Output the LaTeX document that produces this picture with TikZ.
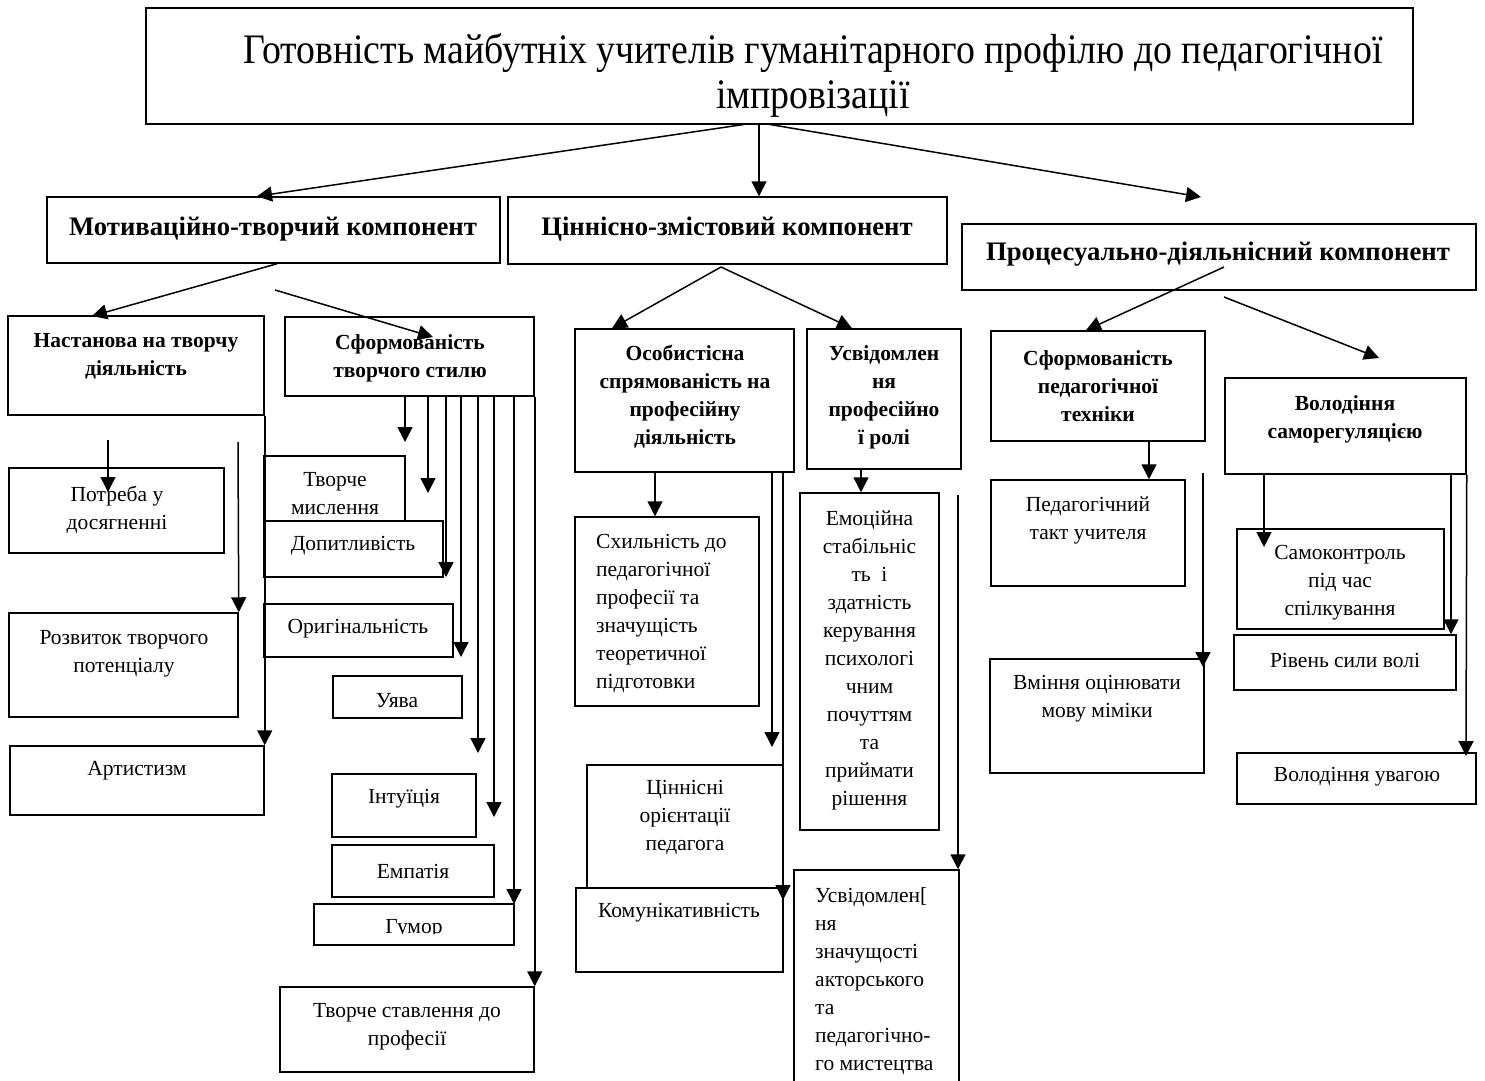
\documentclass[tikz,border=0pt]{standalone}
\usepackage{fontspec}
\setmainfont{Liberation Serif}
\newfontfamily\titlefont[FakeStretch=0.9]{Liberation Serif}
\usetikzlibrary{arrows.meta, fit}

\tikzset{
  box/.style={draw, line width=1.5pt, fill=white, inner sep=0pt},
  txt/.style={font=\fontsize{21.5}{28}\selectfont, align=center, inner sep=0pt},
  ltxt/.style={txt, align=left, anchor=west},
  btxt/.style={font=\bfseries\fontsize{21.5}{28}\selectfont, align=center, inner sep=0pt},
  ctxt/.style={font=\bfseries\fontsize{26.7}{30}\selectfont, inner sep=0pt},
  arr/.style={line width=1.5pt, -{Triangle[length=15pt, width=15pt]}},
}

\begin{document}
\begin{tikzpicture}[x=1pt, y=-1pt]
\useasboundingbox (0,0) rectangle (1485,1080);

% goal
\node[box, fit={(146,8) (1413,124)}] (goal) {};
\node[font=\titlefont\fontsize{42}{45}\selectfont, align=center, inner sep=0pt] (goal-t) at (813,75)
  {Готовність майбутніх учителів гуманітарного профілю до педагогічної\\імпровізації};

% components
\node[box, fit={(47,197) (500,263)}] (mot) {};
\node[box, fit={(508,197) (947,264)}] (cin) {};
\node[box, fit={(962,224) (1476,290)}] (pro) {};
\node[ctxt] (mot-t) at (273,229) {Мотиваційно-творчий компонент};
\node[ctxt] (cin-t) at (727,229) {Ціннісно-змістовий компонент};
\node[ctxt] (pro-t) at (1218,254) {Процесуально-діяльнісний компонент};

% second level
\node[box, fit={(8,316) (264,415)}] (nast) {};
\node[box, fit={(285,317) (534,396)}] (sfts) {};
\node[box, fit={(575,329) (794,472)}] (osob) {};
\node[box, fit={(807,329) (961,469)}] (usv) {};
\node[box, fit={(991,331) (1205,441)}] (sfpt) {};
\node[box, fit={(1225,378) (1466,474)}] (vol) {};
\node[btxt] (nast-t) at (136,356) {Настанова на творчу\\діяльність};
\node[btxt] (sfts-t) at (410,358.5) {Сформованість\\творчого стилю};
\node[btxt] (osob-t) at (685,397) {Особистісна\\спрямованість на\\професійну\\діяльність};
\node[btxt] (usv-t) at (884,397) {Усвідомлен\\ня\\професійно\\ї ролі};
\node[btxt] (sfpt-t) at (1098,386) {Сформованість\\педагогічної\\техніки};
\node[btxt] (vol-t) at (1345,419) {Володіння\\саморегуляцією};

% motivational branch
\node[box, fit={(9,468) (224,553)}] (potr) {};
\node[box, fit={(9,613) (238,717)}] (rozv) {};
\node[box, fit={(10,746) (264,815)}] (art) {};
\node[txt] (potr-t) at (117,510) {Потреба у\\досягненні};
\node[txt] (rozv-t) at (124,653.5) {Розвиток творчого\\потенціалу};
\node[txt] (art-t) at (137,771) {Артистизм};

\node[box, fit={(264,456) (405,521)}] (tvm) {};
\node[txt] (tvm-t) at (335,494) {Творче\\мислення};
\node[box, fit={(264,521) (443,577)}] (dop) {};
\node[txt] (dop-t) at (353,546) {Допитливість};
\node[box, fit={(264,604) (453,657)}] (orig) {};
\node[txt] (orig-t) at (358,629) {Оригінальність};
\node[box, fit={(333,676) (462,718)}] (uyava) {};
\node[txt] (uyava-t) at (397,701) {Уява};
\node[box, fit={(332,774) (476,837)}] (intu) {};
\node[txt] (intu-t) at (404,799) {Інтуїція};
\node[box, fit={(332,845) (494,897)}] (emp) {};
\node[txt] (emp-t) at (413,871) {Емпатія};
\node[box, fit={(314,904) (514,945)}] (gum) {};
\begin{scope}
\clip (314,904) rectangle (514,933);
\node[txt] (gum-t) at (414,929) {Гумор};
\end{scope}
\node[box, fit={(280,987) (534,1072)}] (tvst) {};
\node[txt] (tvst-t) at (407,1026.5) {Творче ставлення до\\професії};

% value branch
\node[box, fit={(575,517) (759,706)}] (shyl) {};
\node[ltxt] (shyl-t) at (596,613) {Схильність до\\педагогічної\\професії та\\значущість\\теоретичної\\підготовки};
\node[box, fit={(587,765) (783,888)}] (cinn) {};
\node[txt] (cinn-t) at (685,817.5) {Ціннісні\\орієнтації\\педагога};
\node[box, fit={(576,888) (783,972)}] (kom) {};
\node[txt] (kom-t) at (679,913) {Комунікативність};
\node[box, fit={(800,493) (939,830)}] (emo) {};
\node[txt] (emo-t) at (869.5,660.5) {Емоційна\\стабільніс\\ть\ \ і\\здатність\\керування\\психологі\\чним\\почуттям\\та\\приймати\\рішення};
\node[box, fit={(794,870) (959,1095)}] (usvz) {};
\node[ltxt] (usvz-t) at (815,981) {Усвідомлен[\\ня\\значущості\\акторського\\та\\педагогічно-\\го мистецтва};

% process branch
\node[box, fit={(991,480) (1185,586)}] (ped) {};
\node[txt] (ped-t) at (1088,520) {Педагогічний\\такт учителя};
\node[box, fit={(990,659) (1204,773)}] (vmin) {};
\node[txt] (vmin-t) at (1097,699) {Вміння оцінювати\\мову міміки};
\node[box, fit={(1237,529) (1444,629)}] (samo) {};
\node[txt] (samo-t) at (1340,582.5) {Самоконтроль\\під час\\спілкування};
\node[box, fit={(1234,635) (1456,690)}] (riv) {};
\node[txt] (riv-t) at (1345,660) {Рівень сили волі};
\node[box, fit={(1237,753) (1476,804)}] (uvag) {};
\node[txt] (uvag-t) at (1357,777) {Володіння увагою};

% free ends of connectors
\coordinate (g1) at (747,124);
\coordinate (g3) at (767,124);
\coordinate (p-in) at (1201,197);
\coordinate (m2) at (275,290);
\coordinate (s-in) at (433,337);
\coordinate (c0) at (721,267);
\coordinate (p1) at (1224,267);
\coordinate (p2) at (1224,297);
\coordinate (v-in) at (1379,358);

% level 0 -> 1
\draw[arr] (g1) -- (257,197 |- mot.north);
\draw[arr] (759,0 |- goal.south) -- (759,0 |- cin.north);
\draw[arr] (g3) -- (p-in);

% level 1 -> 2
\draw[arr] (277,0 |- mot.south) -- (92,316);
\draw[arr] (m2) -- (s-in);
\draw[arr] (c0) -- (612,0 |- osob.north);
\draw[arr] (c0) -- (852,0 |- usv.north);
\draw[arr] (p1) -- (1086,0 |- sfpt.north);
\draw[arr] (p2) -- (v-in);

% level 2 -> 3
\draw[arr] (108,440) -- (108,492);
\draw[arr] (238,442) -- (rozv.north east);
\draw[arr] (nast.south east) -- (art.north east);
\foreach \x/\y in {405/442, 428/493, 446/577, 461/657, 478/753, 494/817, 514/904}
  \draw[arr] (\x,0 |- sfts.south) -- (\x,\y);
\draw[arr] (sfts.south east) -- (tvst.north east);

\draw[arr] (655,0 |- osob.south) -- (655,0 |- shyl.north);
\draw[arr] (772,0 |- osob.south) -- (772,747);
\draw[arr] (783,0 |- osob.south) -- (783,900);
\draw[arr] (861,0 |- usv.south) -- (861,0 |- emo.north);
\draw[arr] (958,495) -- (958,0 |- usvz.north);

\draw[arr] (1149,0 |- sfpt.south) -- (1149,0 |- ped.north);
\draw[arr] (1203,473) -- (1203,667);
\draw[arr] (1264,0 |- vol.south) -- (1264,547);
\draw[arr] (1451,0 |- vol.south) -- (1451,0 |- riv.north);
\draw[arr] (vol.south east) -- (1466,756);
\end{tikzpicture}
\end{document}
